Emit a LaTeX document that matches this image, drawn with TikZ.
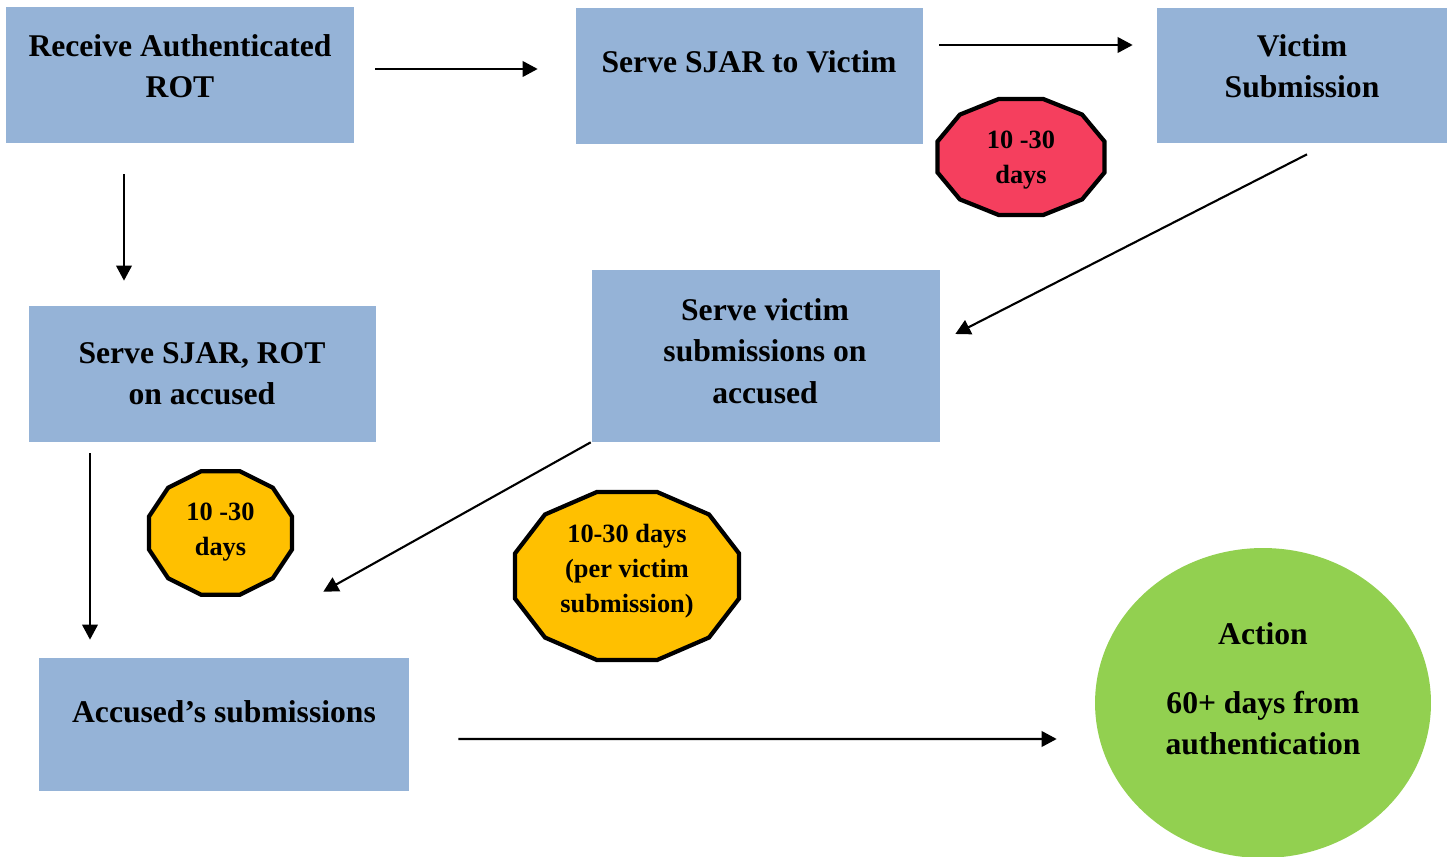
\documentclass[tikz,border=0pt]{standalone}
\usepackage{fontspec}
\setmainfont{Liberation Serif}
\usetikzlibrary{shapes.geometric,arrows.meta,calc}
\definecolor{boxblue}{HTML}{95B3D7}
\definecolor{actgreen}{HTML}{92D050}
\definecolor{badgered}{HTML}{F53F5E}
\definecolor{badgeyellow}{HTML}{FFC000}
\tikzstyle{block} = [rectangle, draw=none, fill=boxblue, inner sep=0pt]
\tikzstyle{blocktext} = [align=center, inner sep=0pt, font=\bfseries\fontsize{18}{23.5}\selectfont]
\tikzstyle{badge} = [draw=black, line width=2.4pt, line join=miter]
\tikzstyle{badgetext} = [align=center, inner sep=0pt, font=\bfseries\fontsize{15}{20}\selectfont]
\tikzstyle{arrow} = [line width=1.2pt, -{Triangle[length=0.3cm,width=0.31cm]}]

\begin{document}
\begin{tikzpicture}[x=0.02cm, y=-0.02cm]
\useasboundingbox (0,0) rectangle (1452,857);

% boxes
\node(rcv)   [block, minimum width=6.96cm, minimum height=2.72cm] at (180,75) {};
\node(sjar)  [block, minimum width=6.94cm, minimum height=2.72cm] at (749.5,76) {};
\node(vsub)  [block, minimum width=5.8cm, minimum height=2.7cm] at (1302,75.5) {};
\node(rot)   [block, minimum width=6.94cm, minimum height=2.72cm] at (202.5,374) {};
\node(svict) [block, minimum width=6.96cm, minimum height=3.44cm] at (766,356) {};
\node(acc)   [block, minimum width=7.4cm, minimum height=2.66cm] at (224,724.5) {};
\node(action)[ellipse, fill=actgreen, inner sep=0pt, minimum width=6.72cm, minimum height=6.2cm] at (1263,703) {};

\node(rcvtxt)   [blocktext] at (180,66) {Receive Authenticated\\ROT};
\node(sjartxt)  [blocktext] at (749,62) {Serve SJAR to Victim};
\node(vsubtxt)  [blocktext] at (1302,66.5) {Victim\\Submission};
\node(rottxt)   [blocktext] at (202,373.5) {Serve SJAR, ROT\\on accused};
\node(svicttxt) [blocktext] at (765,351) {Serve victim\\submissions on\\accused};
\node(acctxt)   [blocktext] at (224,712) {Accused’s submissions};
\node(actiontxt)[blocktext] at (1263,689) {Action\\[0.54cm]60+ days from\\authentication};

% time badges
\draw [badge, fill=badgered] (1021,157) +(15:86.4 and 60)
     \foreach \a in {45,75,...,345} { -- +(\a:86.4 and 60) } -- cycle;
\draw [badge, fill=badgeyellow] (220.5,533) +(15:74 and 64)
     \foreach \a in {45,75,...,345} { -- +(\a:74 and 64) } -- cycle;
\draw [badge, fill=badgeyellow] (627,576) +(15:116 and 87)
     \foreach \a in {45,75,...,345} { -- +(\a:116 and 87) } -- cycle;
\node(redtxt)   [badgetext] at (1021,160) {10 -30\\days};
\node(smalltxt) [badgetext] at (220.5,532) {10 -30\\days};
\node(bigtxt)   [badgetext] at (627,571) {10-30 days\\(per victim\\submission)};

% arrows
\draw [arrow] ($(rcv.east)+(21,-6)$) -- ($(sjar.west)+(-38,-7)$);
\draw [arrow] ($(sjar.east)+(16,-31)$) -- ($(vsub.west)+(-24,-30.5)$);
\draw [arrow] ($(rcv.south)+(-56,31)$) -- ($(rot.north)+(-78.5,-25)$);
\draw [arrow] ($(vsub.south)+(5,11)$) -- ($(svict.east)+(15,-22)$);
\draw [arrow] ($(rot.south)+(-112.5,11)$) -- ($(acc.north)+(-134,-18)$);
\draw [arrow] ($(svict.south west)+(-1,0)$) -- ($(acc.north east)+(-86,-66)$);
\draw [arrow] ($(acc.east)+(49,14.5)$) -- ($(action.west)+(-38,36)$);

\end{tikzpicture}
\end{document}
